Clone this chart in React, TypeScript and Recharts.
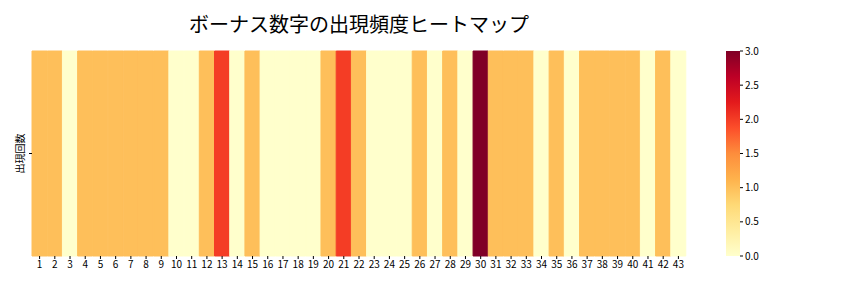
import React from 'react';
import { BarChart, Bar, XAxis, YAxis, Cell } from 'recharts';

// bonus number appearance counts, 1..43
const numbers = Array.from({ length: 43 }, (_, i) => String(i + 1));
const counts = [
  1, 1, 0, 1, 1, 1, 1, 1, 1, 0,
  0, 1, 2, 0, 1, 0, 0, 0, 0, 1,
  2, 1, 0, 0, 0, 1, 0, 1, 0, 3,
  1, 1, 1, 0, 1, 0, 1, 1, 1, 1,
  0, 1, 0,
];
const maxCount = 3;
const colorbarTicks = [0, 0.5, 1, 1.5, 2, 2.5, 3];

// YlOrRd stops
const ylOrRd = ['#ffffcc', '#ffeda0', '#fed976', '#feb24c', '#fd8d3c', '#fc4e2a', '#e31a1c', '#bd0026', '#800026'];

function hexToRgb(h: string): number[] {
  return [1, 3, 5].map((i) => parseInt(h.slice(i, i + 2), 16));
}

function colorAt(t: number): string {
  const pos = Math.min(Math.max(t, 0), 1) * (ylOrRd.length - 1);
  const i = Math.min(Math.floor(pos), ylOrRd.length - 2);
  const f = pos - i;
  const a = hexToRgb(ylOrRd[i]);
  const b = hexToRgb(ylOrRd[i + 1]);
  const c = a.map((v, k) => Math.round(v + (b[k] - v) * f));
  return `rgb(${c[0]},${c[1]},${c[2]})`;
}

const font = '"Noto Sans CJK JP", "Noto Sans", sans-serif';

const data = numbers.map((n, i) => ({ name: n, count: counts[i], full: 1 }));

function YLabelTick(props: any) {
  const { x, y } = props;
  const cx = x - 8;
  return (
    <g>
      <text
        x={cx}
        y={y}
        transform={`rotate(-90, ${cx}, ${y})`}
        textAnchor="middle"
        dominantBaseline="central"
        fontSize={10}
        fontFamily={font}
        fill="#000"
      >
        出現回数
      </text>
    </g>
  );
}

export default function App() {
  return (
    <div style={{ position: 'absolute', left: 0, top: 0, width: 864, height: 288, background: '#fff' }}>
      <div
        style={{
          position: 'absolute',
          left: 32,
          width: 654,
          top: 9,
          textAlign: 'center',
          fontFamily: font,
          fontSize: 20,
          color: '#000',
        }}
      >
        ボーナス数字の出現頻度ヒートマップ
      </div>
      <div style={{ position: 'absolute', left: 0, top: 0 }}>
        <BarChart
          width={864}
          height={288}
          data={data}
          margin={{ top: 51, right: 178, bottom: 2, left: 0 }}
          barCategoryGap={0}
        >
          <XAxis
            dataKey="name"
            interval={0}
            height={30}
            axisLine={false}
            tickLine={{ stroke: '#000' }}
            tickSize={3}
            tick={{ fontSize: 10, fill: '#000', fontFamily: font }}
          />
          <YAxis
            width={32}
            domain={[0, 1]}
            ticks={[0.5]}
            axisLine={false}
            tickLine={{ stroke: '#000' }}
            tickSize={3}
            tick={<YLabelTick />}
          />
          <Bar dataKey="full" isAnimationActive={false}>
            {data.map((d) => {
              const c = colorAt(d.count / maxCount);
              return <Cell key={d.name} fill={c} stroke={c} strokeWidth={1} />;
            })}
          </Bar>
        </BarChart>
      </div>
      <div style={{ position: 'absolute', left: 716, top: 0 }}>
        <svg width={0} height={0} style={{ position: 'absolute' }}>
          <defs>
            <linearGradient id="cbar" x1="0" y1="1" x2="0" y2="0">
              {ylOrRd.map((c, i) => (
                <stop key={c} offset={i / (ylOrRd.length - 1)} stopColor={c} />
              ))}
            </linearGradient>
          </defs>
        </svg>
        <BarChart
          width={80}
          height={288}
          data={[{ name: 'scale', value: maxCount }]}
          margin={{ top: 51, right: 0, bottom: 32, left: 10 }}
          barCategoryGap={0}
        >
          <XAxis dataKey="name" hide />
          <YAxis
            orientation="right"
            width={56}
            domain={[0, maxCount]}
            ticks={colorbarTicks}
            tickFormatter={(v: number) => v.toFixed(1)}
            axisLine={false}
            tickLine={{ stroke: '#000' }}
            tickSize={3}
            tick={{ fontSize: 10, fill: '#000', fontFamily: font }}
          />
          <Bar dataKey="value" fill="url(#cbar)" isAnimationActive={false} />
        </BarChart>
      </div>
    </div>
  );
}
